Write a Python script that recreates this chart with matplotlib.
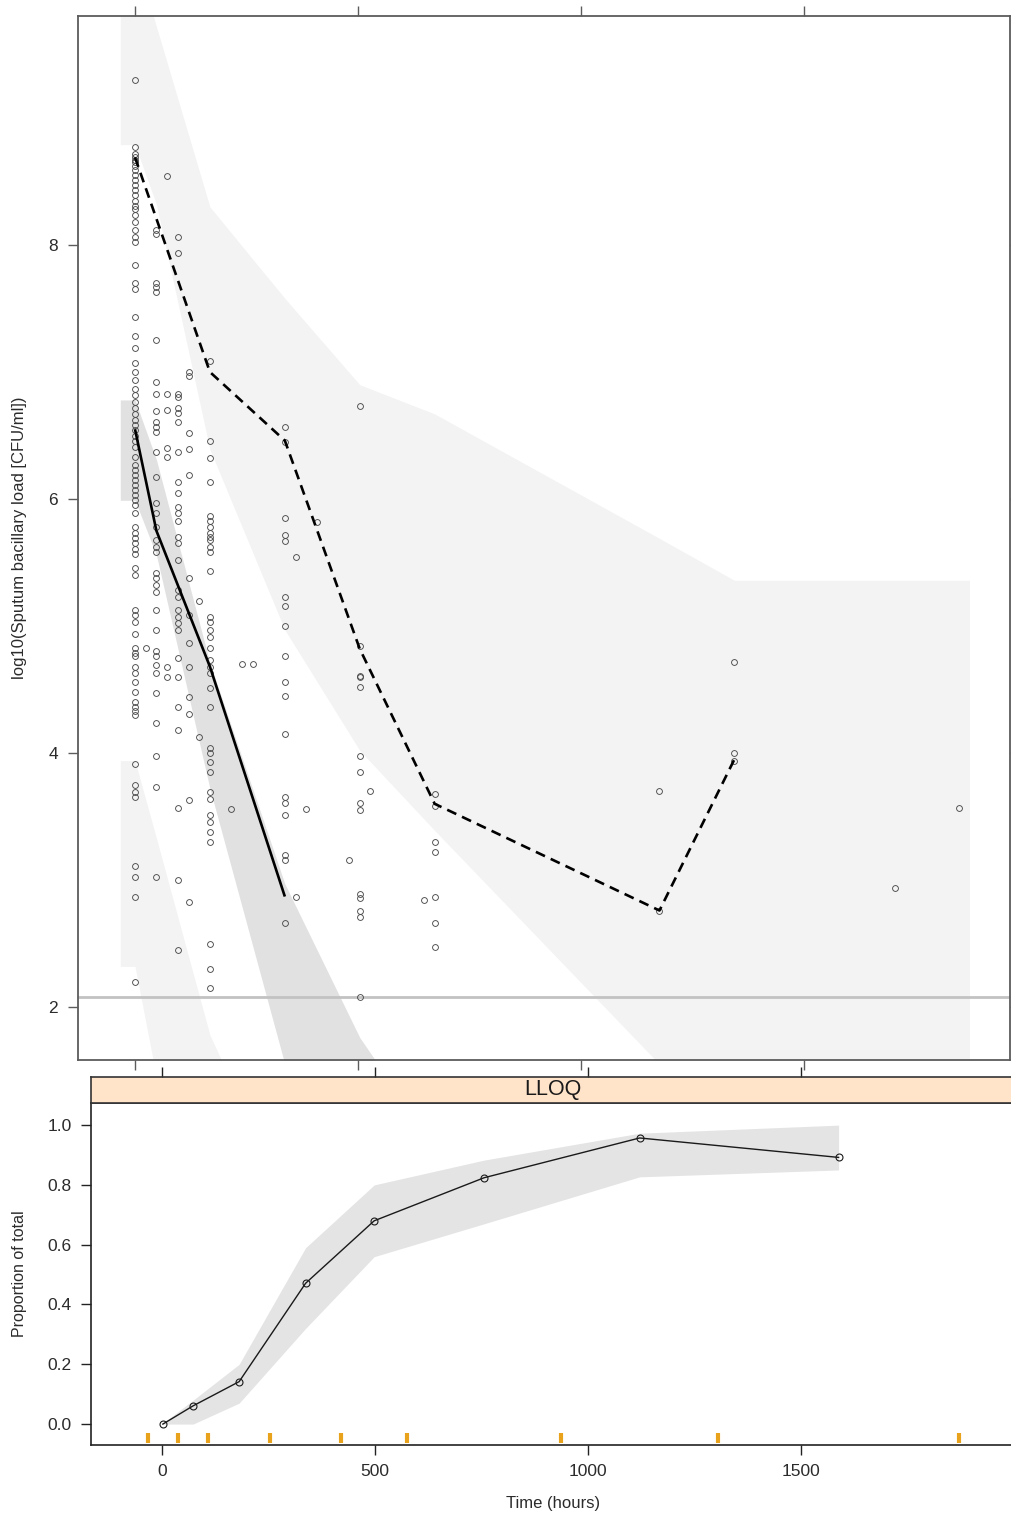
import matplotlib
matplotlib.use("Agg")
import matplotlib.pyplot as plt
import numpy as np

plt.rcParams['font.family'] = ['Liberation Sans', 'DejaVu Sans']

# ---------------- data: observed sputum bacillary load ----------------
obs_times = [0, 24, 48, 72, 96, 120, 144, 168, 216, 240, 264, 336, 360, 384,
             408, 480, 504, 528, 648, 672, 1176, 1344, 1704, 1848]
obs_values = [
    [9.30, 8.77, 8.72, 8.69, 8.67, 8.65, 8.62, 8.59, 8.55, 8.51, 8.47, 8.43, 8.39,
     8.35, 8.31, 8.28, 8.24, 8.18, 8.12, 8.06, 8.02, 7.84, 7.70, 7.65, 7.43, 7.28,
     7.19, 7.07, 7.00, 6.94, 6.87, 6.82, 6.76, 6.72, 6.67, 6.62, 6.58, 6.54, 6.50,
     6.46, 6.41, 6.33, 6.27, 6.23, 6.19, 6.15, 6.11, 6.07, 6.03, 5.99, 5.95, 5.89,
     5.78, 5.73, 5.69, 5.65, 5.61, 5.57, 5.46, 5.40, 5.13, 5.09, 5.03, 4.94, 4.83,
     4.79, 4.76, 4.68, 4.63, 4.56, 4.48, 4.40, 4.36, 4.33, 4.30, 3.91, 3.75, 3.69,
     3.65, 3.11, 3.02, 2.87, 2.20],
    [4.83],
    [8.12, 8.09, 7.70, 7.67, 7.63, 7.25, 6.92, 6.83, 6.69, 6.61, 6.57, 6.53, 6.37,
     6.17, 5.97, 5.89, 5.78, 5.68, 5.62, 5.58, 5.42, 5.38, 5.32, 5.27, 5.13, 4.97,
     4.80, 4.76, 4.69, 4.63, 4.47, 4.24, 3.98, 3.73, 3.02],
    [8.54, 6.83, 6.70, 6.40, 6.33, 4.68, 4.60],
    [8.06, 7.94, 6.83, 6.80, 6.72, 6.68, 6.61, 6.37, 6.13, 6.05, 5.94, 5.89, 5.83,
     5.70, 5.65, 5.52, 5.28, 5.23, 5.13, 5.07, 5.02, 4.97, 4.75, 4.60, 4.36, 4.18,
     3.57, 3.00, 2.45],
    [7.00, 6.97, 6.52, 6.39, 6.19, 5.38, 5.09, 4.87, 4.68, 4.44, 4.31, 3.63, 2.83],
    [5.20, 4.13],
    [7.09, 6.46, 6.32, 6.13, 5.87, 5.83, 5.78, 5.73, 5.70, 5.68, 5.62, 5.58, 5.43,
     5.07, 5.03, 4.97, 4.91, 4.83, 4.73, 4.68, 4.63, 4.51, 4.36, 4.04, 4.00, 3.93,
     3.85, 3.69, 3.64, 3.51, 3.46, 3.38, 3.30, 2.50, 2.30, 2.15],
    [3.56],
    [4.70],
    [4.70],
    [6.57, 6.45, 5.85, 5.72, 5.67, 5.23, 5.16, 5.00, 4.76, 4.56, 4.45, 4.15, 3.65,
     3.61, 3.51, 3.20, 3.16, 2.66],
    [5.54, 2.87],
    [3.56],
    [5.82],
    [3.16],
    [6.73, 4.84, 4.61, 4.60, 4.52, 3.98, 3.85, 3.61, 3.55, 2.89, 2.86, 2.76, 2.71, 2.08],
    [3.70],
    [2.84],
    [3.68, 3.58, 3.30, 3.22, 2.87, 2.66, 2.47],
    [3.70, 2.76],
    [4.72, 4.00, 3.94],
    [2.94],
    [3.57],
]

# observed percentiles
median_time = [0, 48, 168, 336]
median_obs = [6.55, 5.75, 4.68, 2.87]
upper_time = [0, 168, 336, 504, 672, 1176, 1344]
upper_obs = [8.69, 7.00, 6.46, 4.82, 3.60, 2.76, 3.95]

# simulated confidence bands
band_time = [-33, 0, 48, 168, 336, 504, 672, 1176, 1344, 1871]
upper_ci_hi = [10.3, 10.3, 9.72, 8.30, 7.58, 6.90, 6.67, 5.69, 5.36, 5.36]
upper_ci_lo = [8.79, 8.79, 8.32, 6.39, 4.97, 4.02, 3.39, 1.55, 1.00, 1.00]
median_band_time = [-33, 0, 48, 168, 336, 504, 672]
median_ci_hi = [6.78, 6.78, 6.31, 4.71, 2.97, 1.76, 0.90]
median_ci_lo = [5.99, 5.99, 5.56, 3.72, 1.55, 0.50, 0.00]
lower_band_time = [-33, 0, 48, 168, 336]
lower_ci_hi = [3.94, 3.94, 3.33, 1.78, 0.50]
lower_ci_lo = [2.32, 2.32, 1.45, 0.00, 0.00]
lloq_value = 2.08

# LLOQ proportion panel
lloq_time = [2, 73, 181, 337, 498, 756, 1121, 1588]
lloq_prop = [0.0, 0.061, 0.142, 0.471, 0.680, 0.824, 0.957, 0.892]
lloq_ci_lo = [0.0, 0.0, 0.07, 0.32, 0.56, 0.67, 0.827, 0.85]
lloq_ci_hi = [0.003, 0.08, 0.20, 0.59, 0.80, 0.883, 0.973, 1.0]
bin_edges = [-33, 38, 108, 254, 420, 575, 937, 1305, 1871]

x_ticks = [0, 500, 1000, 1500]
y_ticks_top = [2, 4, 6, 8]
y_ticks_low = [0.0, 0.2, 0.4, 0.6, 0.8, 1.0]

# ---------------- figure ----------------
W, H = 1011, 1524
fig = plt.figure(figsize=(W / 100, H / 100), dpi=100)


def fr(x0, y0, x1, y1):
    return [x0 / W, 1 - y1 / H, (x1 - x0) / W, (y1 - y0) / H]


frame_col = '#5c5c5c'
txt_col = '#2b2b2b'
light = '#f3f3f3'
dark = '#e1e1e1'
tick_fs = 12.5

# ---- top panel ----
ax1 = fig.add_axes(fr(78, 16, 1010, 1060))
ax1.set_xlim(-127.8, 1962)
ax1.set_ylim(1.583, 9.803)

ax1.fill_between(band_time, upper_ci_lo, upper_ci_hi, color=light, lw=0, zorder=1)
ax1.fill_between(lower_band_time, lower_ci_lo, lower_ci_hi, color=light, lw=0, zorder=1)
ax1.fill_between(median_band_time, median_ci_lo, median_ci_hi, color=dark, lw=0, zorder=1.5)
ax1.axhline(lloq_value, color='#c2c2c2', lw=2.0, zorder=2)

xs, ys = [], []
for t, vals in zip(obs_times, obs_values):
    xs.extend([t] * len(vals))
    ys.extend(vals)
ax1.plot(xs, ys, 'o', mfc='none', mec='#4a4a4a', ms=4.2, mew=0.65, zorder=3)

ax1.plot(median_time, median_obs, color='black', lw=1.9, zorder=4, solid_capstyle='butt')
ax1.plot(upper_time, upper_obs, color='black', lw=1.9, ls=(0, (3.8, 2.4)), zorder=4)

ax1.set_xticks(x_ticks)
ax1.set_yticks(y_ticks_top)
ax1.tick_params(axis='x', top=True, bottom=True, labelbottom=False, labeltop=False,
                direction='out', length=7.5, width=1.0, color=frame_col)
ax1.tick_params(axis='y', left=True, right=True, labelleft=True, labelright=False,
                direction='out', length=7.5, width=1.0, color=frame_col,
                labelsize=tick_fs, labelcolor=txt_col, pad=7)
for s in ax1.spines.values():
    s.set_color(frame_col)
    s.set_linewidth(1.3)

fig.text(20 / W, 1 - 538 / H, 'log10(Sputum bacillary load [CFU/ml])', rotation=90,
         ha='center', va='center', fontsize=12, color=txt_col)

# ---- lower panel ----
ax2 = fig.add_axes(fr(91, 1103, 1015, 1445))
ax2.set_xlim(-166.7, 2002)
ax2.set_ylim(-0.070, 1.074)
ax2.fill_between(lloq_time, lloq_ci_lo, lloq_ci_hi, color='#e4e4e4', lw=0, zorder=1)
ax2.plot(lloq_time, lloq_prop, color='#1a1a1a', lw=1.0, marker='o', mfc='none',
         mec='#1a1a1a', ms=5, mew=0.8, zorder=3)
ax2.vlines(bin_edges, 0.006, 0.036, transform=ax2.get_xaxis_transform(),
           color='#e9a21b', lw=3.0, zorder=4)
ax2.set_xticks(x_ticks)
ax2.set_yticks(y_ticks_low)
ax2.set_yticklabels([f'{v:.1f}' for v in y_ticks_low])
ax2.tick_params(axis='both', direction='out', length=7, width=1.0, color='#222222',
                labelsize=tick_fs, labelcolor=txt_col, pad=7)
ax2.tick_params(axis='x', top=False)
for s in ax2.spines.values():
    s.set_color('#222222')
    s.set_linewidth(1.2)
ax2.set_xlabel('Time (hours)', fontsize=12, color=txt_col, labelpad=12)
fig.text(20 / W, 1 - 1274 / H, 'Proportion of total', rotation=90,
         ha='center', va='center', fontsize=11.5, color=txt_col)

# strip
axs = fig.add_axes(fr(91, 1077, 1015, 1103))
axs.set_facecolor('#ffe4c9')
axs.set_xlim(ax2.get_xlim())
axs.set_ylim(0, 1)
axs.set_xticks(x_ticks)
axs.set_yticks([])
axs.tick_params(axis='x', top=True, bottom=False, labeltop=False, labelbottom=False,
                direction='out', length=7, width=1.0, color='#222222')
for s in axs.spines.values():
    s.set_color('#333333')
    s.set_linewidth(1.2)
axs.text(0.5, 0.5, 'LLOQ', transform=axs.transAxes, ha='center', va='center',
         fontsize=15.5, color='#1a1a1a')

fig.savefig('out.png', dpi=100, facecolor='white')
